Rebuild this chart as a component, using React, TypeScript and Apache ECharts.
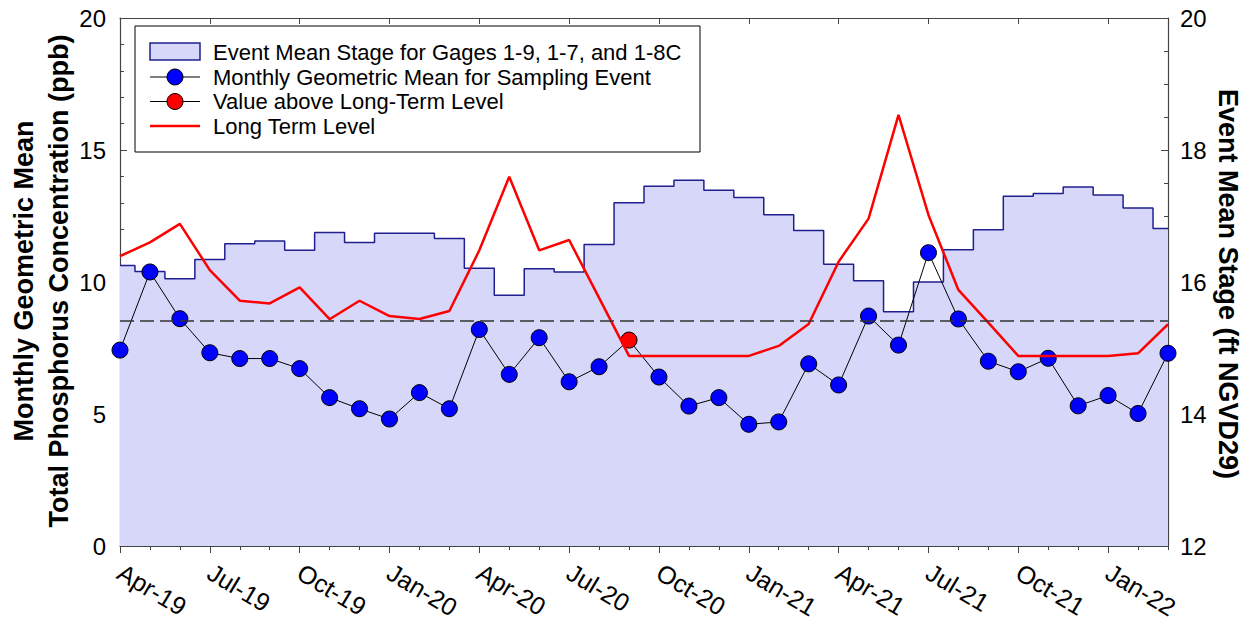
import React, { useEffect, useRef } from "react";
import * as echarts from "echarts";

const months = [
  "Apr-19", "May-19", "Jun-19", "Jul-19", "Aug-19", "Sep-19", "Oct-19", "Nov-19", "Dec-19",
  "Jan-20", "Feb-20", "Mar-20", "Apr-20", "May-20", "Jun-20", "Jul-20", "Aug-20", "Sep-20",
  "Oct-20", "Nov-20", "Dec-20", "Jan-21", "Feb-21", "Mar-21", "Apr-21", "May-21", "Jun-21",
  "Jul-21", "Aug-21", "Sep-21", "Oct-21", "Nov-21", "Dec-21", "Jan-22", "Feb-22", "Mar-22",
];

// Monthly geometric mean TP (ppb), left axis
const tpGeoMean = [
  7.42, 10.38, 8.61, 7.32, 7.1, 7.1, 6.72, 5.62, 5.2,
  4.81, 5.81, 5.2, 8.2, 6.5, 7.89, 6.22, 6.79, 7.8,
  6.4, 5.3, 5.62, 4.61, 4.7, 6.9, 6.1, 8.71, 7.61,
  11.11, 8.6, 7.0, 6.6, 7.11, 5.31, 5.7, 5.02, 7.3,
];

// Months whose value is above the long-term level (red marker)
const aboveLongTerm = ["Sep-20"];

// Long term level (ppb), left axis
const longTermLevel = [
  10.98, 11.5, 12.2, 10.45, 9.29, 9.19, 9.8, 8.59, 9.29,
  8.71, 8.6, 8.9, 11.2, 13.99, 11.2, 11.59, 9.4, 7.2,
  7.2, 7.2, 7.2, 7.2, 7.58, 8.41, 10.77, 12.4, 16.33,
  12.54, 9.7, 8.46, 7.2, 7.2, 7.2, 7.2, 7.3, 8.4,
];

// Event mean stage (ft NGVD29), right axis
const eventStage = [
  16.25, 16.16, 16.05, 16.34, 16.58, 16.62, 16.48, 16.75, 16.6,
  16.74, 16.74, 16.66, 16.21, 15.8, 16.2, 16.15, 16.57, 17.2,
  17.45, 17.54, 17.39, 17.28, 17.02, 16.78, 16.27, 16.02, 15.55,
  16.0, 16.49, 16.79, 17.3, 17.34, 17.44, 17.32, 17.12, 16.81,
];

// Dashed reference level (ppb)
const referenceLevel = 8.55;

const legendLabels = [
  "Event Mean Stage for Gages 1-9, 1-7, and 1-8C",
  "Monthly Geometric Mean for Sampling Event",
  "Value above Long-Term Level",
  "Long Term Level",
];

const leftTitle = ["Monthly Geometric Mean", "Total Phosphorus Concentration (ppb)"];
const rightTitle = "Event Mean Stage (ft NGVD29)";

const FONT = '"Liberation Sans", Arial, Helvetica, sans-serif';
const FILL = "#d7d7fa";
const NAVY = "#1f1f8f";
const AX = "#444";

export default function App() {
  const ref = useRef<HTMLDivElement>(null);

  useEffect(() => {
    if (!ref.current) return;
    const chart = echarts.init(ref.current, null, { renderer: "svg" });

    const baseX: any = { type: "category", data: months, boundaryGap: false, splitLine: { show: false } };
    const axLine = { show: true, lineStyle: { color: AX, width: 1.2 } };

    const legendRowsY = [52, 77, 101.5, 126];
    const symX1 = 150;
    const symX2 = 200;
    const symCx = 175;
    const textX = 213;

    const option: any = {
      animation: false,
      backgroundColor: "#fff",
      grid: { left: 120, right: 79, top: 18, bottom: 79, containLabel: false },
      xAxis: [
        {
          ...baseX,
          position: "bottom",
          axisLine: axLine,
          axisTick: { show: true, interval: 0, length: 4, lineStyle: { color: AX } },
          axisLabel: { show: false },
        },
        {
          ...baseX,
          position: "bottom",
          axisLine: { show: false },
          axisTick: { show: true, interval: 2, length: 7, lineStyle: { color: AX } },
          axisLabel: {
            show: true,
            interval: 2,
            rotate: -31,
            fontSize: 25,
            fontFamily: FONT,
            color: "#000",
            margin: 24,
          },
        },
        {
          ...baseX,
          position: "top",
          axisLine: axLine,
          axisTick: { show: true, inside: true, interval: 2, length: 6, lineStyle: { color: AX } },
          axisLabel: { show: false },
        },
      ],
      yAxis: [
        {
          type: "value",
          min: 0,
          max: 20,
          interval: 5,
          position: "left",
          axisLine: axLine,
          axisTick: { show: true, inside: true, length: 7, lineStyle: { color: AX } },
          minorTick: { show: true, splitNumber: 5, length: 4, lineStyle: { color: AX } },
          axisLabel: { fontSize: 24, fontFamily: FONT, color: "#000", margin: 14 },
          splitLine: { show: false },
          minorSplitLine: { show: false },
        },
        {
          type: "value",
          min: 12,
          max: 20,
          interval: 2,
          position: "right",
          axisLine: axLine,
          axisTick: { show: true, inside: true, length: 7, lineStyle: { color: AX } },
          minorTick: { show: true, splitNumber: 4, length: 4, lineStyle: { color: AX } },
          axisLabel: { fontSize: 24, fontFamily: FONT, color: "#000", margin: 12 },
          splitLine: { show: false },
          minorSplitLine: { show: false },
        },
      ],
      series: [
        {
          name: legendLabels[0],
          type: "line",
          xAxisIndex: 0,
          yAxisIndex: 1,
          data: eventStage,
          step: "middle",
          symbol: "none",
          lineStyle: { color: NAVY, width: 1.5 },
          areaStyle: { color: FILL, opacity: 1, origin: "start" },
          z: 1,
        },
        {
          name: legendLabels[1],
          type: "line",
          xAxisIndex: 0,
          yAxisIndex: 0,
          data: tpGeoMean.map((v, i) =>
            aboveLongTerm.includes(months[i])
              ? { value: v, itemStyle: { color: "#ff0000", borderColor: "#000", borderWidth: 1 } }
              : v
          ),
          symbol: "circle",
          symbolSize: 16,
          showSymbol: true,
          showAllSymbol: true,
          itemStyle: { color: "#0000ff", borderColor: "#000", borderWidth: 1 },
          lineStyle: { color: "#000", width: 1 },
          markLine: {
            silent: true,
            symbol: ["none", "none"],
            label: { show: false },
            lineStyle: { color: "#333", width: 1.5, type: [14, 6] },
            data: [{ yAxis: referenceLevel }],
          },
          z: 3,
        },
        {
          name: legendLabels[3],
          type: "line",
          xAxisIndex: 0,
          yAxisIndex: 0,
          data: longTermLevel,
          symbol: "none",
          lineStyle: { color: "#ff0000", width: 2.5 },
          z: 4,
        },
      ],
      graphic: [
        {
          type: "rect",
          z: 100,
          shape: { x: 135, y: 26, width: 565, height: 126 },
          style: { fill: "#fff", stroke: "#000", lineWidth: 1 },
        },
        {
          type: "rect",
          z: 101,
          shape: { x: symX1, y: 43, width: symX2 - symX1, height: 17 },
          style: { fill: FILL, stroke: NAVY, lineWidth: 1.5 },
        },
        {
          type: "line",
          z: 101,
          shape: { x1: symX1, y1: legendRowsY[1], x2: symX2, y2: legendRowsY[1] },
          style: { stroke: "#000", lineWidth: 1 },
        },
        {
          type: "circle",
          z: 102,
          shape: { cx: symCx, cy: legendRowsY[1], r: 8 },
          style: { fill: "#0000ff", stroke: "#000", lineWidth: 1 },
        },
        {
          type: "line",
          z: 101,
          shape: { x1: symX1, y1: legendRowsY[2], x2: symX2, y2: legendRowsY[2] },
          style: { stroke: "#000", lineWidth: 1 },
        },
        {
          type: "circle",
          z: 102,
          shape: { cx: symCx, cy: legendRowsY[2], r: 8 },
          style: { fill: "#ff0000", stroke: "#000", lineWidth: 1 },
        },
        {
          type: "line",
          z: 101,
          shape: { x1: symX1, y1: legendRowsY[3], x2: symX2, y2: legendRowsY[3] },
          style: { stroke: "#ff0000", lineWidth: 2.5 },
        },
        ...legendLabels.map((t, i) => ({
          type: "text",
          z: 102,
          x: textX,
          y: legendRowsY[i],
          style: {
            text: t,
            font: `22px ${FONT}`,
            fill: "#000",
            align: "left",
            verticalAlign: "middle",
          },
        })),
        {
          type: "text",
          x: 24,
          y: 281,
          rotation: Math.PI / 2,
          style: {
            text: leftTitle[0],
            font: `bold 27px ${FONT}`,
            fill: "#000",
            align: "center",
            verticalAlign: "middle",
          },
        },
        {
          type: "text",
          x: 59,
          y: 281,
          rotation: Math.PI / 2,
          style: {
            text: leftTitle[1],
            font: `bold 27px ${FONT}`,
            fill: "#000",
            align: "center",
            verticalAlign: "middle",
          },
        },
        {
          type: "text",
          x: 1228,
          y: 284,
          rotation: -Math.PI / 2,
          style: {
            text: rightTitle,
            font: `bold 27px ${FONT}`,
            fill: "#000",
            align: "center",
            verticalAlign: "middle",
          },
        },
      ],
    };

    chart.setOption(option);
    return () => chart.dispose();
  }, []);

  return (
    <div
      ref={ref}
      style={{ position: "fixed", left: 0, top: 0, width: 1247, height: 625, background: "#fff" }}
    />
  );
}
